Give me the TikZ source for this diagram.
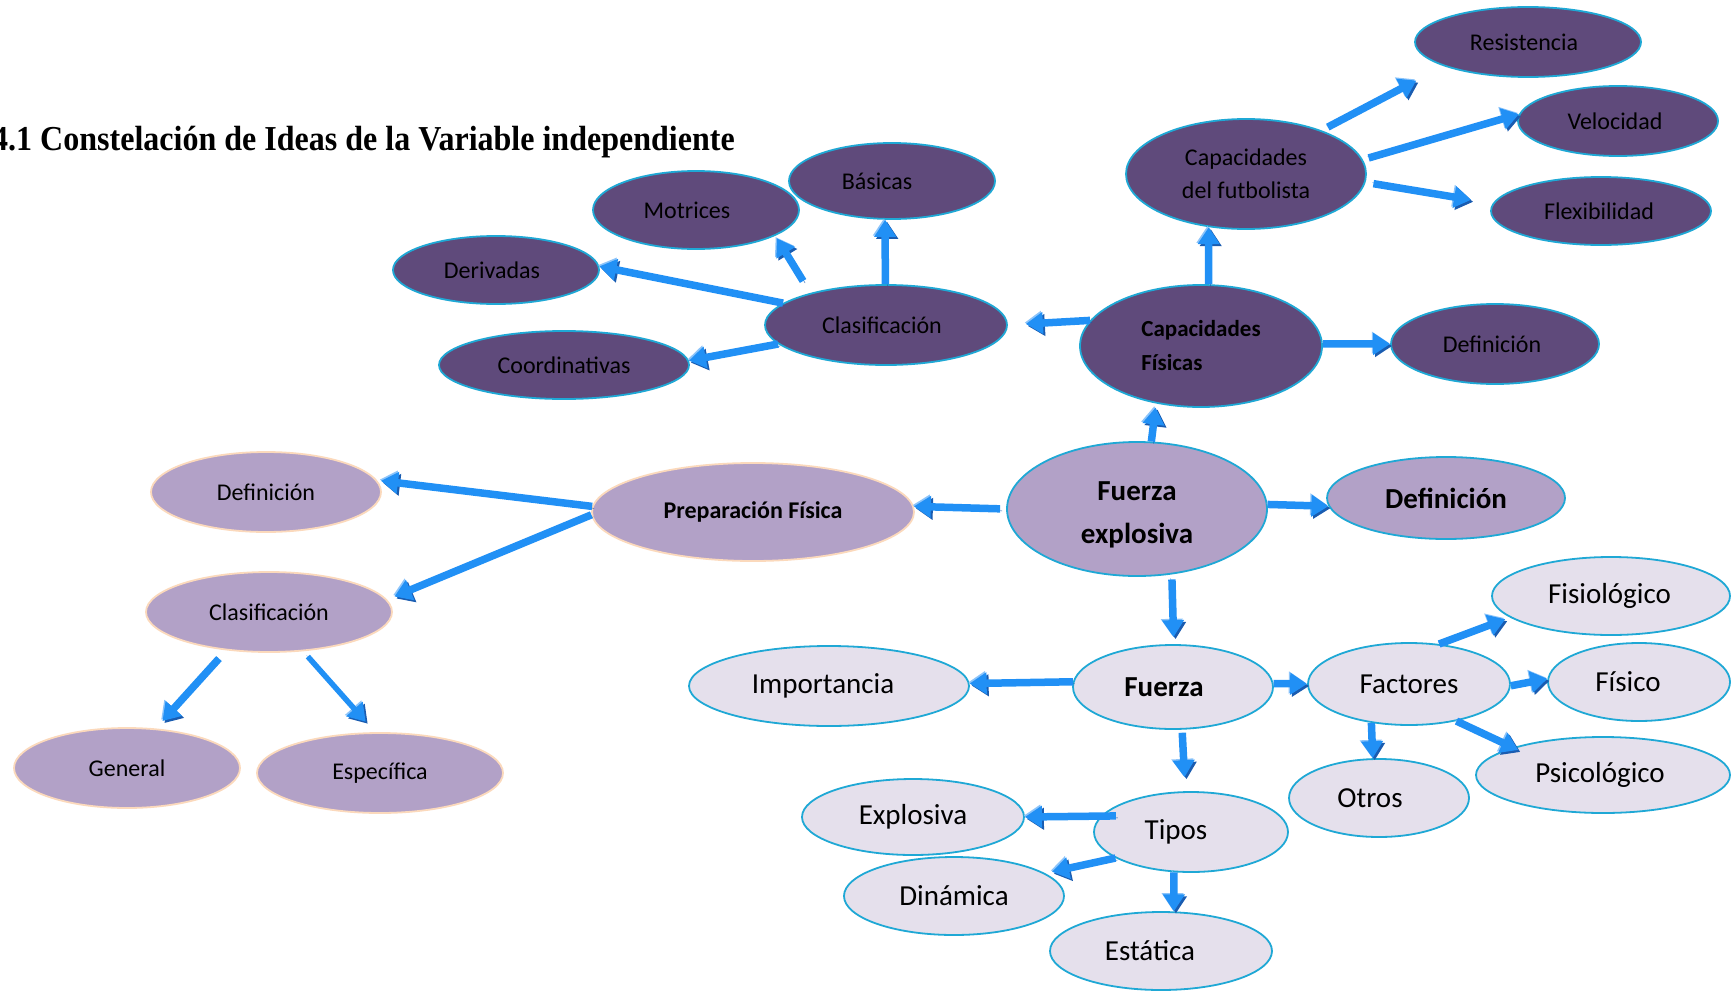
\documentclass[tikz,border=0pt]{standalone}
\usepackage{fontspec}
\setmainfont{Carlito}
\newfontfamily\titlefont[FakeStretch=0.915]{Liberation Serif}
\usetikzlibrary{shapes.geometric,arrows.meta}

\definecolor{deeppurple}{HTML}{5F4A7B}
\definecolor{midpurple}{HTML}{B2A1C7}
\definecolor{palepurple}{HTML}{E5E0EC}
\definecolor{aqualine}{HTML}{1FA8D5}
\definecolor{peachline}{HTML}{FBD9BC}
\definecolor{arrowblue}{HTML}{2190F5}
\definecolor{arrowshade}{HTML}{1A5CB0}
\definecolor{arrowlight}{HTML}{8CC4FA}

% shifts a one-line label sideways inside its bubble (moves by half the kern)
\newcommand{\nudge}[1]{\kern#1pt\relax}

\begin{document}
\begin{tikzpicture}[x=1pt,y=-1pt,
  bubble/.style={ellipse, inner sep=0pt, line width=1.8pt, text=black, align=center},
  deep/.style={bubble, fill=deeppurple, draw=aqualine, font=\fontsize{24}{33}\selectfont},
  mid/.style={bubble, fill=midpurple, draw=aqualine, font=\fontsize{29}{43}\selectfont\bfseries},
  midp/.style={bubble, fill=midpurple, draw=peachline, font=\fontsize{24}{30}\selectfont},
  pale/.style={bubble, fill=palepurple, draw=aqualine, font=\fontsize{29}{35}\selectfont},
  sz/.style 2 args={minimum width=#1pt, minimum height=#2pt},
  barrow/.style={draw=arrowblue, line width=7.5pt, -{Triangle[width=21pt,length=17pt]},
    preaction={draw=arrowlight, transform canvas={shift={(-1.3,-1.3)}}},
    preaction={draw=arrowshade, transform canvas={shift={(2,2)}}}},
]
\useasboundingbox (0,0) rectangle (1731,990);

% title
\node[anchor=base west, inner sep=0pt, font=\titlefont\bfseries\fontsize{35}{38}\selectfont] (title) at (-8,150)
  {4.1 Constelación de Ideas de la Variable independiente};

% physical capacities branch
\node[deep, sz={226}{70}] (res) at (1528,42) {\nudge{-8}Resistencia};
\node[deep, sz={200}{70}] (vel) at (1618,121) {\nudge{-6}Velocidad};
\node[deep, sz={220}{68}] (flex) at (1601,211) {\nudge{-4}Flexibilidad};
\node[deep, sz={240}{110}] (cfut) at (1246,174) {Capacidades\\del futbolista};
\node[deep, sz={242}{122}, font=\fontsize{23}{34}\selectfont\bfseries, align=left] (cfis) at (1201,346) {Capacidades\\Físicas};
\node[deep, sz={208}{80}] (defa) at (1495,344) {\nudge{-6}Definición};
\node[deep, sz={242}{80}] (clasa) at (886,325) {\nudge{-8}Clasificación};
\node[deep, sz={206}{76}] (bas) at (892,181) {\nudge{-30}Básicas};
\node[deep, sz={206}{78}] (mot) at (696,210) {\nudge{-18}Motrices};
\node[deep, sz={206}{68}] (der) at (496,270) {\nudge{-8}Derivadas};
\node[deep, sz={250}{68}] (coord) at (564,365) {Coordinativas};

% central idea and physical preparation
\node[mid, sz={260}{134}] (fe) at (1137,509) {\rule{0pt}{30pt}Fuerza\\explosiva};
\node[mid, sz={238}{82}] (defb) at (1446,498) {Definición};
\node[midp, sz={322}{98}, font=\fontsize{24}{30}\selectfont\bfseries] (prep) at (753,512) {Preparación Física};
\node[midp, sz={230}{80}] (defc) at (266,492) {Definición};
\node[midp, sz={246}{80}] (clasb) at (269,612) {Clasificación};
\node[midp, sz={226}{80}] (gen) at (127,768) {General};
\node[midp, sz={246}{80}] (esp) at (380,773) {Específica};

% strength branch
\node[pale, sz={200}{84}, font=\fontsize{29}{35}\selectfont\bfseries] (fz) at (1173,687) {\nudge{-18}Fuerza};
\node[pale, sz={280}{80}] (imp) at (829,686) {\nudge{-12}Importancia};
\node[pale, sz={202}{82}] (fac) at (1409,684) {Factores};
\node[pale, sz={238}{78}] (fisio) at (1611,596) {\nudge{-3}Fisiológico};
\node[pale, sz={182}{78}] (fisi) at (1639,682) {\nudge{-22}Físico};
\node[pale, sz={254}{76}] (psi) at (1603,775) {\nudge{-6}Psicológico};
\node[pale, sz={180}{78}] (otros) at (1379,798) {\nudge{-18}Otros};
\node[pale, sz={194}{80}] (tipos) at (1191,832) {\nudge{-30}Tipos};
\node[pale, sz={222}{76}] (expl) at (913,817) {Explosiva};
\node[pale, sz={220}{78}] (din) at (954,896) {Dinámica};
\node[pale, sz={222}{78}] (est) at (1161,951) {\nudge{-22}Estática};

% block arrows
\draw[barrow, shorten >=4pt] (fe.78) -- (cfis.232);
\draw[barrow] (cfis.83) -- (cfut.235);
\draw[barrow] (cfis.1) -- (defa.180);
\draw[barrow, shorten >=18pt] (cfis.167) -- (clasa.0);
\draw[barrow, shorten <=7pt, shorten >=31pt] (cfut.30) -- (res.196);
\draw[barrow, shorten <=6pt] (cfut.7) -- (vel.176);
\draw[barrow, shorten <=8pt, shorten >=22pt] (cfut.356) -- (flex.176);
\draw[barrow] (clasa.91) -- (bas.260);
\draw[barrow, shorten <=14pt, shorten >=3pt] (clasa.157) -- (mot.342);
\draw[barrow] (clasa.168) -- (der.2);
\draw[barrow] (clasa.190) -- (coord.2);
\draw[barrow] (fe.2) -- (defb.184);
\draw[barrow, shorten <=6pt] (fe.180) -- (prep.2);
\draw[barrow, shorten >=4pt] (prep.178) -- (defc.6);
\draw[barrow, shorten >=8pt] (prep.181) -- (clasb.6);
\draw[barrow, shorten <=11pt, shorten >=10pt] (clasb.222) -- (gen.54);
\draw[barrow, line width=5.5pt, shorten <=7pt, shorten >=14pt] (clasb.311) -- (esp.97);
\draw[barrow, shorten <=5pt, shorten >=7pt] (fe.298) -- (fz.89);
\draw[barrow] (fz.177) -- (imp.1);
\draw[barrow] (fz.2) -- (fac.180);
\draw[barrow, shorten <=3pt, shorten >=14pt] (fz.282) -- (tipos.98);
\draw[barrow, shorten >=5pt] (fac.53) -- (fisio.192);
\draw[barrow] (fac.359) -- (fisi.178);
\draw[barrow, shorten >=-6pt] (fac.322) -- (psi.163);
\draw[barrow] (fac.226) -- (otros.99);
\draw[barrow, shorten <=-15pt] (tipos.170) -- (expl.0);
\draw[barrow, shorten >=7pt] (tipos.199) -- (din.14);
\draw[barrow] (tipos.247) -- (est.72);
\end{tikzpicture}
\end{document}
